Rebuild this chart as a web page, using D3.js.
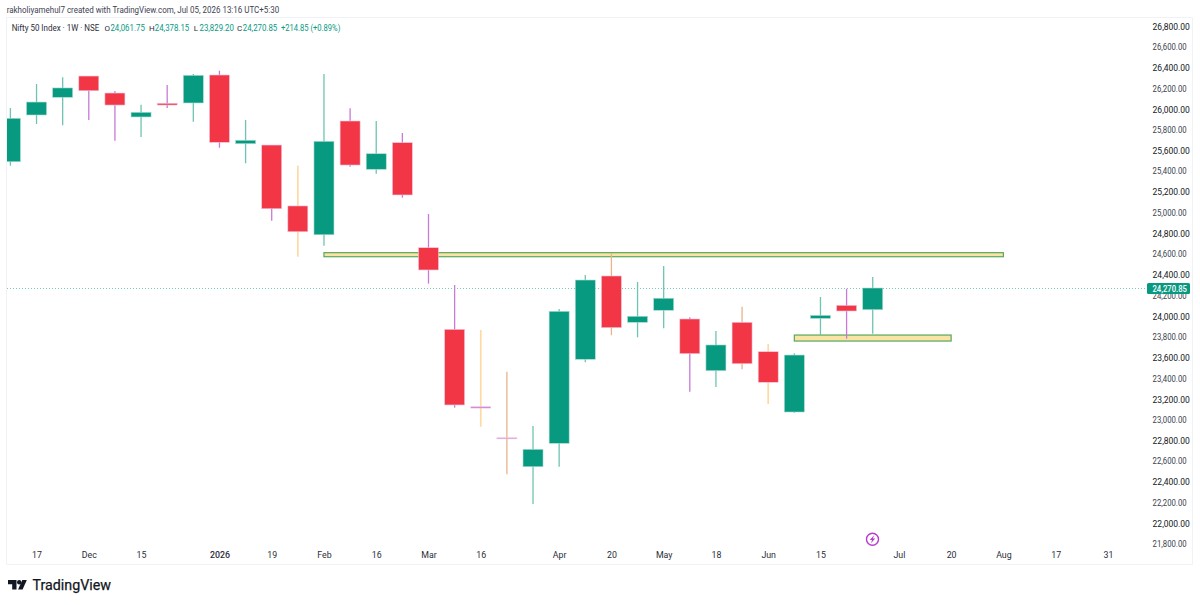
<!DOCTYPE html>
<html><head><meta charset="utf-8">
<script src="https://cdnjs.cloudflare.com/ajax/libs/d3/7.8.5/d3.min.js"></script>
<style>html,body{margin:0;padding:0;background:#fff}svg{display:block}text{font-family:Roboto,"Open Sans",sans-serif}</style>
</head><body><svg id="c" width="1200" height="605"></svg>
<script>
const firstWeek = "2025-11-10";
const opens = [25490,25941,26112,26317,26153,25922,26054,26057,26327,25664,25651,25063,24785,25883,25417,25674,24660,23872,23125,22825,22546,22772,23583,24387,23940,24056,23972,23473,23940,23656,23074,23978,24104,24061.75];
const highs = [26008,26240,26305,26317,26173,26040,26230,26337,26369,25893,25651,25452,26337,26006,25883,25767,24985,24300,23866,23463,22939,24068,24397,24606,24329,24483,23988,23856,24091,23730,23641,24184,24264,24378.15];
const lows = [25452,25854,25842,25893,25693,25729,26008,25876,25625,25475,24921,24573,24679,25442,25374,25143,24313,23116,22932,22473,22186,22546,23554,23815,23795,23882,23270,23315,23486,23151,23067,23817,23782,23829.20];
const closes = [25909,26066,26202,26175,26037,25967,26037,26324,25677,25697,25036,24814,25687,25458,25567,25169,24445,23142,23112,22815,22714,24046,24348,23888,23998,24172,23637,23721,23540,23361,23624,24007,24049,24270.85];
const wickTints = ["g","g","g","p","p","g","p","g","p","g","p","o","g","p","g","p","p","p","o","m","g","g","g","m","g","g","p","g","m","o","g","g","p","g"];
const priceTicks = d3.range(26800,21799,-200);
const timeTicks = [["2025-11-17","17"],["2025-12-01","Dec"],["2025-12-15","15"],["2026-01-05","2026"],["2026-01-19","19"],["2026-02-02","Feb"],["2026-02-16","16"],["2026-03-02","Mar"],["2026-03-16","16"],["2026-04-06","Apr"],["2026-04-20","20"],["2026-05-04","May"],["2026-05-18","18"],["2026-06-01","Jun"],["2026-06-15","15"],["2026-07-06","Jul"],["2026-07-20","20"],["2026-08-03","Aug"],["2026-08-17","17"],["2026-08-31","31"]];
const zoneFrom = ["2026-02-02","2026-06-08"];
const zoneTo = ["2026-08-03","2026-07-20"];
const zoneTop = [24612,23817];
const zoneBottom = [24573,23759];
const lastClose = 24270.85;
const legendName = "Nifty 50 Index · 1W · NSE";
const legendVals = [["O","24,061.75"],["H","24,378.15"],["L","23,829.20"],["C","24,270.85"]];
const legendChange = "+214.85 (+0.89%)";
const caption = "rakholiyamehul7 created with TradingView.com, Jul 05, 2026 13:16 UTC+5:30";

const UP="#089981",DOWN="#f23645",INK="#2a2e39";
const tint={g:"#6fc3b2",p:"#c77ad6",o:"#fdd9a4",m:"#e8b48e"};
const svg=d3.select("#c");
const day=d3.utcParse("%Y-%m-%d");
const t0=day(firstWeek);
const x=d3.scaleUtc().domain([t0,d3.utcDay.offset(t0,7*42)]).range([10.4,1107.9]);
const y=d3.scaleLinear().domain([21800,26800]).range([544,26]);
const weeks=opens.map((o,i)=>({d:d3.utcDay.offset(t0,7*i),o,h:highs[i],l:lows[i],c:closes[i],t:wickTints[i]}));
const zones=zoneFrom.map((f,i)=>({from:f,to:zoneTo[i],top:zoneTop[i],bottom:zoneBottom[i]}));
const L=7,R=1145,T=18,B=565;
svg.append("rect").attr("width",1200).attr("height",605).attr("fill","#fff");
svg.append("text").attr("x",6.7).attr("y",13).attr("font-size",9).attr("fill","#3d424f").attr("textLength",272.5).attr("lengthAdjust","spacingAndGlyphs").text(caption);
svg.append("path").attr("d",`M${L-.5},${T-.5}H1192.5V${B-.5}H${L-.5}Z`).attr("fill","none").attr("stroke","#f0f2f5");
const defs=svg.append("defs");
defs.append("clipPath").attr("id","pane").append("rect").attr("x",L).attr("y",T).attr("width",R-L).attr("height",B-T);
const g=svg.append("g").attr("clip-path","url(#pane)");
g.append("line").attr("x1",L).attr("x2",R+2).attr("y1",y(lastClose)+.5).attr("y2",y(lastClose)+.5).attr("stroke",UP).attr("stroke-opacity",.55).attr("stroke-dasharray","1 2");
g.selectAll(".zone").data(zones).join("rect").attr("class","zone")
 .attr("x",d=>x(day(d.from))).attr("width",d=>x(day(d.to))-x(day(d.from)))
 .attr("y",d=>y(d.top)).attr("height",d=>y(d.bottom)-y(d.top))
 .attr("fill","#fbe3a6").attr("stroke","#55a95c").attr("stroke-width",1.2);
g.selectAll(".wick").data(weeks).join("line").attr("class","wick")
 .attr("x1",d=>x(d.d)).attr("x2",d=>x(d.d)).attr("y1",d=>y(d.h)).attr("y2",d=>y(d.l))
 .attr("stroke",d=>tint[d.t]).attr("stroke-width",d=>d.t==="o"?1.7:1.3);
g.selectAll(".body").data(weeks).join("rect").attr("class","body")
 .attr("x",d=>x(d.d)-10).attr("width",20)
 .attr("y",d=>y(Math.max(d.o,d.c))).attr("height",d=>Math.max(1,Math.abs(y(d.o)-y(d.c))))
 .attr("fill",d=>Math.abs(y(d.o)-y(d.c))<1.6?tint.p:(d.c>=d.o?UP:DOWN))
 .attr("stroke",d=>d.c>=d.o?"#a8dcd1":"#f0c8e0").attr("stroke-width",.6);
const axisY=d3.axisRight(y).tickValues(priceTicks).tickSize(0).tickPadding(0).tickFormat(d3.format(",.2f"));
const ay=svg.append("g").attr("transform","translate(1152.6,0)").call(axisY);
ay.select(".domain").remove();
ay.selectAll("text").attr("font-size",(d,i)=>i%2?8.2:8.9).attr("fill",(d,i)=>i%2?"#3d424f":"#131722").attr("x",0).attr("dy","0.35em")
 .attr("textLength",(d,i)=>i%2?34:37.3).attr("lengthAdjust","spacingAndGlyphs");
const axisX=d3.axisBottom(x).tickValues(timeTicks.map(d=>day(d[0]))).tickSize(0).tickPadding(0).tickFormat((d,i)=>timeTicks[i][1]);
const ax=svg.append("g").attr("transform","translate(0,552)").call(axisX);
ax.select(".domain").remove();
ax.selectAll("text").attr("font-size",8.8).attr("fill",INK).attr("font-weight",(d,i)=>timeTicks[i][1]==="2026"?500:400).attr("dy","0.71em");
svg.append("rect").attr("x",1147).attr("y",y(lastClose)-5).attr("width",43).attr("height",11).attr("rx",1.5).attr("fill",UP);
svg.append("text").attr("x",1152.4).attr("y",y(lastClose)+.5).attr("dy","0.36em").attr("font-size",8.6).attr("font-weight",500).attr("fill","#fff").attr("textLength",34.6).attr("lengthAdjust","spacingAndGlyphs").text(d3.format(",.2f")(lastClose));
const legendXs=[104.6,149,193.7,237];
svg.append("text").attr("x",11.7).attr("y",30.5).attr("font-size",8.8).attr("fill",INK).attr("textLength",87.5).attr("lengthAdjust","spacingAndGlyphs").text(legendName);
legendVals.forEach(([k,v],i)=>{
 svg.append("text").attr("x",legendXs[i]).attr("y",30.5).attr("font-size",8).attr("fill",INK).text(k);
 svg.append("text").attr("x",legendXs[i]+5.8).attr("y",30.5).attr("font-size",8.8).attr("fill",UP).attr("textLength",34.4).attr("lengthAdjust","spacingAndGlyphs").text(v);
});
svg.append("text").attr("x",281).attr("y",30.5).attr("font-size",8.8).attr("fill",UP).attr("textLength",59.3).attr("lengthAdjust","spacingAndGlyphs").text(legendChange);
const mk=svg.append("g").attr("transform","translate(872.5,539.3)");
mk.append("circle").attr("r",6).attr("fill","#fff").attr("stroke","#b83ad0").attr("stroke-width",1.4);
mk.append("path").attr("d","M1.6,-4L-2.8,.8H-.4L-1.6,4L2.8,-.8H.4Z").attr("fill","#b83ad0");
const logo=svg.append("g").attr("transform","translate(8,580)");
logo.append("path").attr("d","M0,0H8.5V9.5H4.2V4.3H0Z").attr("fill","#131722");
logo.append("circle").attr("cx",11.2).attr("cy",2.2).attr("r",2.2).attr("fill","#131722");
logo.append("path").attr("d","M14.3,0H18.8L14.6,9.5H10.1Z").attr("fill","#131722");
svg.append("text").attr("x",32.5).attr("y",590).attr("font-family","Lato").attr("font-size",15).attr("fill","#131722").attr("stroke","#131722").attr("stroke-width",.25).attr("textLength",78.5).attr("lengthAdjust","spacingAndGlyphs").text("TradingView");
</script></body></html>
